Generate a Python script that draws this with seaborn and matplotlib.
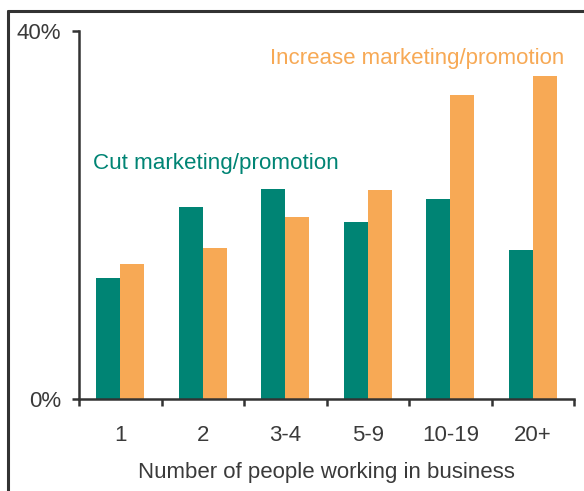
import matplotlib
matplotlib.use("Agg")
import matplotlib.pyplot as plt
from matplotlib.lines import Line2D
import numpy as np
import pandas as pd
import seaborn as sns

# Survey results by business size
categories = ["1", "2", "3-4", "5-9", "10-19", "20+"]
cut_values = [13.2, 20.9, 22.8, 19.2, 21.7, 16.2]
increase_values = [14.7, 16.4, 19.8, 22.7, 33.0, 35.1]
series_names = ["Cut marketing/promotion", "Increase marketing/promotion"]
y_tick_labels = ["0%", "40%"]

TEAL = "#008474"
ORANGE = "#F7A955"
INK = "#333333"
TEXT = "#3a3a3a"
FS = 16
WEIGHT = "normal"

sns.set_theme(style="white")
plt.rcParams["font.family"] = ["Liberation Sans", "DejaVu Sans"]

df = pd.DataFrame({
    "size": categories * 2,
    "value": cut_values + increase_values,
    "series": [series_names[0]] * len(categories) + [series_names[1]] * len(categories),
})

fig = plt.figure(figsize=(5.84, 4.91), dpi=100)
ax = fig.add_axes([79 / 584, 1 - 399 / 491, (574 - 79) / 584, (399 - 31) / 491])

sns.barplot(data=df, x="size", y="value", hue="series", order=categories,
            hue_order=series_names, palette=[TEAL, ORANGE], width=0.58,
            linewidth=0, saturation=1, legend=False, ax=ax)

ax.set_xlim(-0.5, len(categories) - 0.5)
ax.set_ylim(0, 40)

for side in ["top", "right"]:
    ax.spines[side].set_visible(False)
for side in ["left", "bottom"]:
    ax.spines[side].set_color(INK)
    ax.spines[side].set_linewidth(1.8)

ax.set_yticks([0, 40])
ax.set_yticklabels(y_tick_labels)
ax.tick_params(axis="y", left=True, length=5, width=1.8, color=INK,
               labelsize=FS, labelcolor=TEXT, pad=8)

ax.set_xticks(range(len(categories)))
ax.set_xticklabels(categories)
ax.set_xticks(np.arange(-0.5, len(categories), 1.0), minor=True)
ax.tick_params(axis="x", which="major", bottom=False, length=0,
               labelsize=FS, labelcolor=TEXT, pad=19)
ax.tick_params(axis="x", which="minor", bottom=True, length=5, width=1.8,
               color=INK)

for lbl in ax.get_xticklabels() + ax.get_yticklabels():
    lbl.set_fontweight(WEIGHT)

ax.set_xlabel("Number of people working in business", fontsize=FS,
              color=TEXT, labelpad=11, fontweight=WEIGHT)
ax.set_ylabel("")

ax.text(-0.33, 25.65, series_names[0], color=TEAL, fontsize=16.1,
        ha="left", va="center", fontweight=WEIGHT)
ax.text(1.815, 37.05, series_names[1], color=ORANGE, fontsize=16,
        ha="left", va="center", fontweight=WEIGHT)

# Frame around the panel (left and top edges)
fig.add_artist(Line2D([7.5 / 584, 7.5 / 584], [0, 1 - 11 / 491],
                      transform=fig.transFigure, color=INK, linewidth=2.2))
fig.add_artist(Line2D([7.5 / 584, 1], [1 - 11 / 491, 1 - 11 / 491],
                      transform=fig.transFigure, color=INK, linewidth=2.2))

fig.savefig("out.png", dpi=100, facecolor="white")
